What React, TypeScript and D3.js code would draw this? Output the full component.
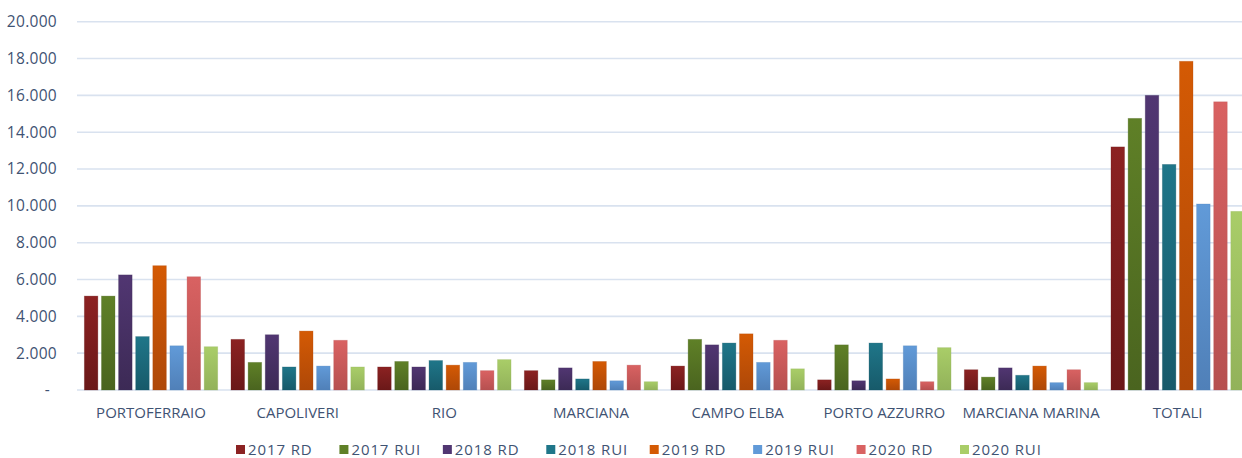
import React from "react";
import * as d3 from "d3";

const categories = ["PORTOFERRAIO", "CAPOLIVERI", "RIO", "MARCIANA", "CAMPO ELBA", "PORTO AZZURRO", "MARCIANA MARINA", "TOTALI"];
const seriesNames = ["2017 RD", "2017 RUI", "2018 RD", "2018 RUI", "2019 RD", "2019 RUI", "2020 RD", "2020 RUI"];
const v2017RD = [5100, 2750, 1250, 1050, 1300, 550, 1100, 13200];
const v2017RUI = [5100, 1500, 1550, 550, 2750, 2450, 700, 14750];
const v2018RD = [6250, 3000, 1250, 1200, 2450, 500, 1200, 16000];
const v2018RUI = [2900, 1250, 1600, 600, 2550, 2550, 800, 12250];
const v2019RD = [6750, 3200, 1350, 1550, 3050, 600, 1300, 17850];
const v2019RUI = [2400, 1300, 1500, 500, 1500, 2400, 400, 10100];
const v2020RD = [6150, 2700, 1050, 1350, 2700, 450, 1100, 15650];
const v2020RUI = [2350, 1250, 1650, 450, 1150, 2300, 400, 9700];
const seriesValues = [v2017RD, v2017RUI, v2018RD, v2018RUI, v2019RD, v2019RUI, v2020RD, v2020RUI];
const yTicks = [0, 2000, 4000, 6000, 8000, 10000, 12000, 14000, 16000, 18000, 20000];

const topColors = ["#8c2222", "#5f8027", "#513672", "#1f7689", "#d45a04", "#619ad8", "#d96262", "#a9cd68"];
const bottomColors = ["#6a1818", "#4a641f", "#3c2a55", "#175a6a", "#ae4808", "#5080b8", "#b65050", "#92b25a"];

const W = 1242;
const H = 458;
const FONT = "'Open Sans', 'Noto Sans', sans-serif";
const TXT = "#3f5373";

export default function App() {
  const y = d3.scaleLinear().domain([0, 20000]).range([390, 21.7]);
  const x0 = d3.scaleBand<string>().domain(categories).range([77.7, 1251]).paddingInner(0.0907).paddingOuter(0.0453);
  const x1 = d3.scaleBand<string>().domain(seriesNames).range([0, x0.bandwidth()]).paddingInner(0.21);
  const fmt = (v: number) => (v === 0 ? "-" : d3.format(",")(v).replace(/,/g, "."));

  const legendX = d3.scalePoint<string>().domain(seriesNames).range([236, 960]);

  return (
    <div style={{ position: "fixed", left: 0, top: 0 }}>
      <svg width={W} height={H} style={{ display: "block", background: "#fff" }}>
        <defs>
          {seriesNames.map((s, i) => (
            <linearGradient key={s} id={`g${i}`} x1="0" y1="0" x2="0" y2="1">
              <stop offset="0%" stopColor={topColors[i]} />
              <stop offset="100%" stopColor={bottomColors[i]} />
            </linearGradient>
          ))}
        </defs>
        {yTicks.map((t) => (
          <g key={t}>
            <line x1={77} x2={W} y1={y(t)} y2={y(t)} stroke="#d9e2ef" strokeWidth={1.6} />
            <text x={t === 0 ? 50 : 57} y={y(t)} dy="0.35em" textAnchor="end" fontFamily={FONT} fontSize={15.5} letterSpacing={0.3} fill={TXT}>
              {fmt(t)}
            </text>
          </g>
        ))}
        {categories.map((c, ci) => (
          <g key={c} transform={`translate(${x0(c)},0)`}>
            {seriesNames.map((s, si) => {
              const v = seriesValues[si][ci];
              return (
                <rect
                  key={s}
                  x={x1(s)}
                  y={y(v)}
                  width={x1.bandwidth()}
                  height={y(0) - y(v)}
                  fill={`url(#g${si})`}
                  stroke={bottomColors[si]}
                  strokeOpacity={0.35}
                  strokeWidth={0.8}
                />
              );
            })}
            <text x={x0.bandwidth() / 2} y={413} dy="0.35em" textAnchor="middle" fontFamily={FONT} fontSize={15} fill={TXT}>
              {c}
            </text>
          </g>
        ))}
        {seriesNames.map((s, i) => (
          <g key={s} transform={`translate(${legendX(s)},450)`}>
            <rect x={0} y={-5} width={9} height={9} fill={topColors[i]} />
            <text x={12} y={0} dy="0.35em" fontFamily={FONT} fontSize={15} letterSpacing={0.9} fill={TXT}>
              {s}
            </text>
          </g>
        ))}
      </svg>
    </div>
  );
}
